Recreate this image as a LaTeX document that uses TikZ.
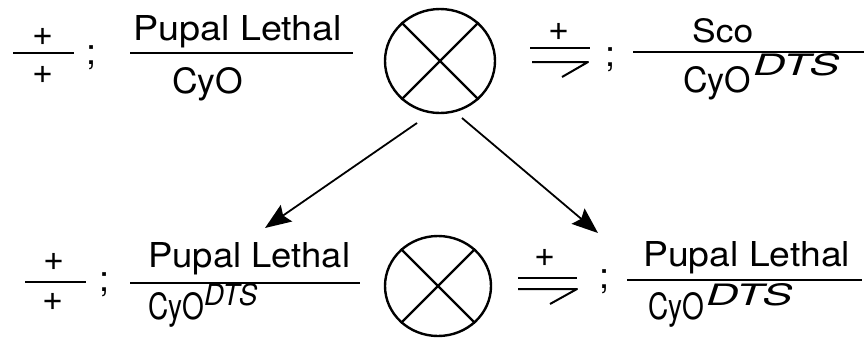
\documentclass[tikz,border=0pt]{standalone}
\usepackage{fontspec}
\setmainfont{TeX Gyre Heros}
\usepackage{graphicx}
\usetikzlibrary{arrows.meta,shapes.geometric}
\newcommand\fitbox[3]{\resizebox{#1pt}{#2pt}{#3}}
\begin{document}
\begin{tikzpicture}[x=1pt,y=-1pt,
  txt/.style={inner sep=0pt, anchor=base west},
  pl/.style={inner sep=0pt, font=\fontsize{36}{40}\selectfont},
  fracbar/.style={line width=2pt},
  ring/.style={draw, ellipse, line width=2.4pt, inner sep=0pt},
  cross/.style={line width=2.2pt},
  arr/.style={line width=1.8pt, -{Stealth[length=26pt,width=20pt,inset=4pt]}}
]
\useasboundingbox (0,0) rectangle (864,341);

% ---------- top row ----------
\node[pl] (tl1) at (43,37) {+};
\node[pl] (tl2) at (43,75) {+};
\draw[fracbar] (13,53) -- (74,53);
\node[pl] (ts1) at (92,58) {;};
\node[txt] (tpl) at (133,40) {\fitbox{209}{25}{Pupal Lethal}};
\draw[fracbar] (130,53) -- (353,53);
\node[txt] (tcy) at (172,93) {\fitbox{71}{26}{CyO}};

\node[ring, minimum width=110pt, minimum height=104pt] (c1) at (440,61) {};
\draw[cross] (c1.45) -- (c1.225);
\draw[cross] (c1.135) -- (c1.315);

\node[pl] (tr1) at (559,32) {+};
\draw[fracbar] (530,48) -- (590,48);
\draw[fracbar, line join=round] (532,62) -- (588,62) -- (562,77);
\node[pl] (ts2) at (610,60) {;};
\node[txt] (tsco) at (692,42) {\fitbox{61}{24}{Sco}};
\draw[fracbar] (633,52) -- (864,52);
\node[txt] (tcy2) at (683,92) {\fitbox{68}{26}{CyO}};
\node[txt] (tdts) at (753,75) {\fitbox{86}{22}{\itshape DTS}};

% ---------- arrows ----------
\coordinate (ls) at (417,123);
\coordinate (le) at (265,228);
\coordinate (rs) at (462,118);
\coordinate (re) at (598,233);
\draw[arr] (ls) -- (le);
\draw[arr] (rs) -- (re);

% ---------- bottom row ----------
\node[pl] (bl1) at (54,262) {+};
\node[pl] (bl2) at (53,302) {+};
\draw[fracbar] (25,282) -- (86,282);
\node[pl] (bs1) at (105,285) {;};
\node[txt] (bpl) at (148,267) {\fitbox{202}{25}{Pupal Lethal}};
\draw[fracbar] (130,283) -- (360,283);
\node[txt] (bcy) at (148,319) {\fitbox{56}{27}{CyO}};
\node[txt] (bdts) at (204,305) {\fitbox{53}{22}{\itshape DTS}};

\node[ring, minimum width=106pt, minimum height=100pt] (c2) at (438,286) {};
\draw[cross] (c2.45) -- (c2.225);
\draw[cross] (c2.135) -- (c2.315);

\node[pl] (br1) at (545,258) {+};
\draw[fracbar] (518,278) -- (577,278);
\draw[fracbar, line join=round] (518,289) -- (577,289) -- (550,304);
\node[pl] (bs2) at (604,282) {;};
\node[txt] (bpl2) at (643,266) {\fitbox{207}{25}{Pupal Lethal}};
\draw[fracbar] (627,280) -- (862,280);
\node[txt] (bcy2) at (648,319) {\fitbox{56}{27}{CyO}};
\node[txt] (bdts2) at (706,305) {\fitbox{86}{22}{\itshape DTS}};
\end{tikzpicture}
\end{document}
